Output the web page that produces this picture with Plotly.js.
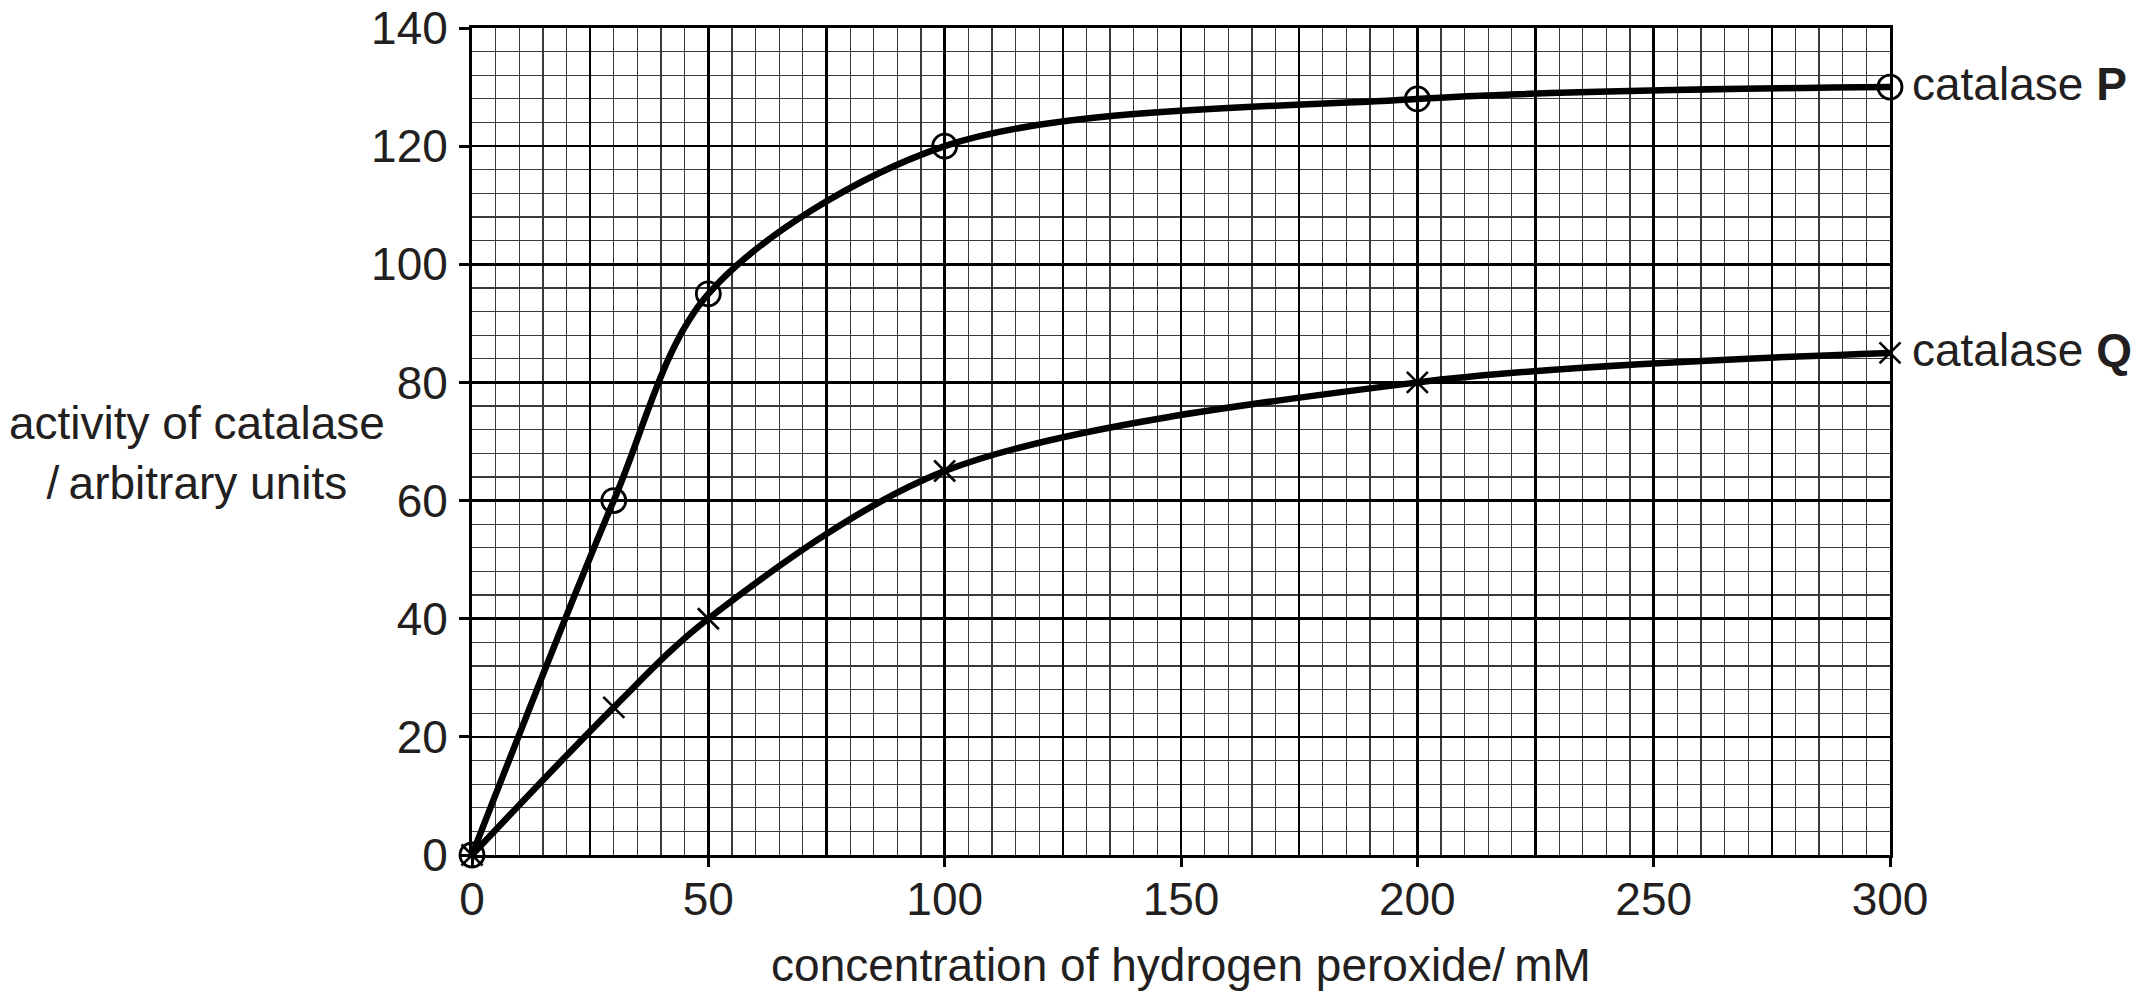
<!DOCTYPE html>
<html>
<head>
<meta charset="utf-8">
<script src="https://cdn.plot.ly/plotly-3.0.1.min.js"></script>
<style>
  html, body { margin: 0; padding: 0; background: #fff; }
  #chart { width: 2141px; height: 1001px; }
</style>
</head>
<body>
<div id="chart"></div>
<script>
// Hydrogen peroxide concentration (mM) at which activity was measured
const concentration = [0, 30, 50, 100, 200, 300];
// Activity of the two catalases (arbitrary units)
const activityP = [0, 60, 95, 120, 128, 130];
const activityQ = [0, 25, 40, 65, 80, 85];
// Curve labels
const labelP = 'catalase <b>P</b>';
const labelQ = 'catalase <b>Q</b>';
// Axis texts
const xTitle = 'concentration of hydrogen peroxide/\u2009mM';
const yTitle = 'activity of catalase<br>/\u2009arbitrary units';

const ink = '#231f20';
const fontFamily = '"Liberation Sans", Arial, Helvetica, sans-serif';
const textSize = 46;

const curveLine = { color: '#000', width: 6.5, shape: 'spline', smoothing: 0.9 };

const traces = [
  {
    x: concentration, y: activityP, xaxis: 'x', yaxis: 'y',
    type: 'scatter', mode: 'lines+markers', cliponaxis: false,
    line: curveLine,
    marker: { symbol: 'circle-open-dot', size: 24, color: '#000', line: { color: '#000', width: 2.8 } },
    hoverinfo: 'x+y', showlegend: false
  },
  {
    x: concentration, y: activityQ, xaxis: 'x', yaxis: 'y',
    type: 'scatter', mode: 'lines+markers', cliponaxis: false,
    line: curveLine,
    marker: { symbol: 'x-thin-open', size: 21, color: '#000', line: { color: '#000', width: 2.6 } },
    hoverinfo: 'x+y', showlegend: false
  },
  // empty series that anchors the labelled x axis
  { x: [], y: [], xaxis: 'x2', yaxis: 'y', type: 'scatter', mode: 'markers', showlegend: false, hoverinfo: 'skip' }
];

const layout = {
  width: 2141, height: 1001,
  margin: { l: 472, r: 251, t: 28, b: 146 },
  paper_bgcolor: '#fff', plot_bgcolor: '#fff',
  font: { family: fontFamily, color: ink, size: textSize },
  showlegend: false,
  // graph-paper grid: bold every 25 mM, fine every 5 mM
  xaxis: {
    range: [0, 300], tick0: 0, dtick: 25,
    showticklabels: false, ticks: '',
    showgrid: true, gridcolor: '#000', gridwidth: 2.6,
    minor: { tick0: 0, dtick: 5, showgrid: true, gridcolor: '#3a3a3a', gridwidth: 1.2, ticks: '' },
    zeroline: false, showline: true, linecolor: '#000', linewidth: 3, mirror: true,
    fixedrange: true
  },
  // labelled axis: ticks and numbers every 50 mM
  xaxis2: {
    overlaying: 'x', anchor: 'y', side: 'bottom',
    range: [0, 300], tick0: 0, dtick: 50,
    ticks: 'outside', ticklen: 11, tickwidth: 3, tickcolor: '#000',
    tickfont: { size: textSize, color: ink, family: fontFamily },
    ticklabelstandoff: -7,
    showgrid: false, zeroline: false, showline: false,
    title: { text: xTitle, font: { size: textSize, color: ink, family: fontFamily }, standoff: 24 },
    fixedrange: true
  },
  yaxis: {
    range: [0, 140], tick0: 0, dtick: 20,
    ticks: 'outside', ticklen: 10, tickwidth: 3, tickcolor: '#000',
    tickfont: { size: textSize, color: ink, family: fontFamily },
    ticklabelstandoff: 2,
    showgrid: true, gridcolor: '#000', gridwidth: 2.6,
    minor: { tick0: 0, dtick: 4, showgrid: true, gridcolor: '#3a3a3a', gridwidth: 1.2, ticks: '' },
    zeroline: false, showline: true, linecolor: '#000', linewidth: 3, mirror: true,
    fixedrange: true
  },
  annotations: [
    {
      xref: 'paper', yref: 'paper', x: -0.1936, y: 0.486,
      xanchor: 'center', yanchor: 'middle', align: 'center',
      text: yTitle, showarrow: false,
      font: { size: textSize, color: ink, family: fontFamily }
    },
    {
      xref: 'x', yref: 'y', x: concentration[concentration.length - 1], y: activityP[activityP.length - 1],
      xanchor: 'left', yanchor: 'middle', xshift: 20, yshift: 3,
      text: labelP, showarrow: false,
      font: { size: textSize, color: ink, family: fontFamily }
    },
    {
      xref: 'x', yref: 'y', x: concentration[concentration.length - 1], y: activityQ[activityQ.length - 1],
      xanchor: 'left', yanchor: 'middle', xshift: 20, yshift: 3,
      text: labelQ, showarrow: false,
      font: { size: textSize, color: ink, family: fontFamily }
    }
  ]
};

Plotly.newPlot('chart', traces, layout, { displayModeBar: false, staticPlot: true });
</script>
</body>
</html>
